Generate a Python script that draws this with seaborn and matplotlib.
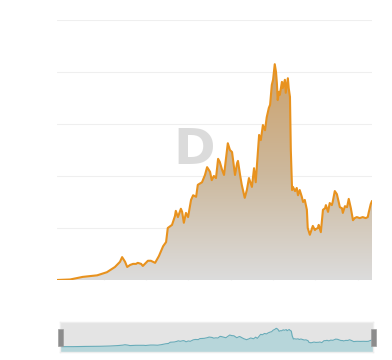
import numpy as np
import pandas as pd
import matplotlib
matplotlib.use("Agg")
import matplotlib.pyplot as plt
import seaborn as sns
from matplotlib.patches import Rectangle
from matplotlib.colors import LinearSegmentedColormap

# ---- data ----
years = [2015.89, 2016.20, 2016.50, 2016.84, 2017.07, 2017.26, 2017.38, 2017.43, 2017.50, 2017.55,
         2017.62, 2017.69, 2017.76, 2017.80, 2017.88, 2017.92, 2017.99, 2018.04, 2018.11, 2018.21,
         2018.30, 2018.40, 2018.47, 2018.51, 2018.61, 2018.68, 2018.70, 2018.75, 2018.82, 2018.85,
         2018.89, 2018.94, 2018.99, 2019.06, 2019.11, 2019.18, 2019.22, 2019.32, 2019.39, 2019.44,
         2019.51, 2019.55, 2019.60, 2019.65, 2019.70, 2019.74, 2019.79, 2019.84, 2019.89, 2019.93,
         2019.98, 2020.03, 2020.10, 2020.15, 2020.17, 2020.22, 2020.26, 2020.33, 2020.38, 2020.43,
         2020.50, 2020.55, 2020.59, 2020.64, 2020.67, 2020.71, 2020.76, 2020.81, 2020.85, 2020.90,
         2020.93, 2020.97, 2021.00, 2021.04, 2021.07, 2021.09, 2021.11, 2021.14, 2021.16, 2021.21,
         2021.23, 2021.28, 2021.30, 2021.35, 2021.37, 2021.40, 2021.42, 2021.45, 2021.47, 2021.52,
         2021.56, 2021.59, 2021.63, 2021.68, 2021.71, 2021.75, 2021.80, 2021.82, 2021.87, 2021.94,
         2021.99, 2022.01, 2022.06, 2022.08, 2022.13, 2022.18, 2022.23, 2022.25, 2022.30, 2022.34,
         2022.39, 2022.41, 2022.46, 2022.51, 2022.58, 2022.63, 2022.65, 2022.70, 2022.75, 2022.79,
         2022.84, 2022.89, 2022.93, 2022.98, 2023.05, 2023.12, 2023.19, 2023.24, 2023.26, 2023.31,
         2023.34]
values = [0.0, 0.1, 0.6, 0.9, 1.5, 2.5, 3.5, 4.4, 3.5, 2.5,
          2.9, 3.1, 3.1, 3.3, 3.1, 2.7, 3.3, 3.7, 3.7, 3.3,
          4.6, 6.5, 7.3, 10.0, 10.6, 12.3, 13.3, 12.1, 13.7, 13.1,
          11.0, 12.9, 12.1, 15.4, 16.3, 16.0, 18.3, 18.8, 20.2, 21.7,
          20.8, 19.2, 20.0, 19.6, 23.3, 22.7, 21.3, 20.2, 23.5, 26.3,
          25.0, 24.6, 20.2, 22.5, 22.9, 20.2, 18.3, 15.8, 17.3, 19.6,
          17.9, 21.5, 18.8, 24.4, 27.9, 26.9, 29.8, 28.8, 31.3, 33.1,
          33.7, 37.5, 38.5, 41.5, 40.0, 37.9, 34.6, 36.2, 35.6, 38.1,
          36.9, 38.5, 36.0, 38.8, 36.9, 35.2, 25.0, 17.3, 17.9, 17.1,
          17.7, 16.3, 17.3, 16.0, 15.0, 15.4, 13.5, 10.0, 8.7, 10.4,
          9.6, 9.8, 10.0, 10.6, 9.2, 13.5, 13.8, 14.4, 13.1, 14.8,
          14.4, 15.0, 17.1, 16.5, 14.0, 13.8, 12.9, 14.2, 14.0, 15.6,
          13.8, 11.5, 11.9, 12.1, 11.9, 12.1, 11.9, 12.1, 12.9, 14.6,
          15.2]
y_ticks = [0, 10, 20, 30, 40, 50]
x_ticks = [2017, 2018, 2019, 2020, 2021, 2022, 2023]

df = pd.DataFrame({"year": years, "value": values})

sns.set_theme(style="white")
plt.rcParams["font.family"] = ["DejaVu Sans"]

W, H = 392, 360
fig = plt.figure(figsize=(W / 100, H / 100), dpi=100)
fig.patch.set_facecolor("white")

# ---- main chart ----
ax = fig.add_axes([57 / W, 1 - 280 / H, 315 / W, 260 / H])
x0, x1 = years[0], years[-1]
ax.set_xlim(x0, x1)
ax.set_ylim(0, 50)

for yv in y_ticks:
    ax.axhline(yv, color="#efefef", lw=0.8, zorder=0)

poly = ax.fill_between(df["year"], df["value"], 0, color="none", lw=0)
cmap = LinearSegmentedColormap.from_list("g", ["#dcdcdc", "#ccb89c", "#cda26c"])
grad = np.linspace(0, 1, 256).reshape(-1, 1)
vmax = max(values)
im = ax.imshow(grad, extent=[x0, x1, 0, vmax], origin="lower", aspect="auto",
               cmap=cmap, zorder=1, interpolation="bilinear")
im.set_clip_path(poly.get_paths()[0], transform=ax.transData)

sns.lineplot(data=df, x="year", y="value", ax=ax, color="#e8921e", lw=1.5, zorder=3)

ax.set_xticks(x_ticks)
ax.set_yticks([])
ax.tick_params(axis="x", direction="in", length=2, color="#f2f2f2", width=0.8,
               labelbottom=False, bottom=True)
ax.set_xlabel("")
ax.set_ylabel("")
for s in ax.spines.values():
    s.set_visible(False)
ax.set_facecolor("none")

# watermark
fig.text(194 / W, 1 - 150 / H, "D", fontsize=36, fontweight="bold", color="#d8d8d8",
         ha="center", va="center", alpha=0.9)

# ---- data-zoom slider ----
sax = fig.add_axes([60 / W, 1 - 352 / H, 313 / W, 30 / H])
sax.set_facecolor("#e4e4e4")
sax.set_xlim(x0 - 0.01, x1 + 0.01)
sax.set_ylim(-12, 55.7)
sax.fill_between(df["year"], df["value"], -12, color="#b7d6da", lw=0)
sns.lineplot(data=df, x="year", y="value", ax=sax, color="#68acb9", lw=0.8)
sax.set_xticks([])
sax.set_yticks([])
sax.set_xlabel("")
sax.set_ylabel("")
for s in sax.spines.values():
    s.set_color("#eeeeee")
    s.set_linewidth(1)

for hx in (58, 371):
    fig.patches.append(Rectangle((hx / W, 1 - 346 / H), 5 / W, 17.5 / H,
                                 transform=fig.transFigure, facecolor="#8c8c8c",
                                 edgecolor="#a0a0a0", lw=0.5, zorder=5))

fig.savefig("out.png", dpi=100)
